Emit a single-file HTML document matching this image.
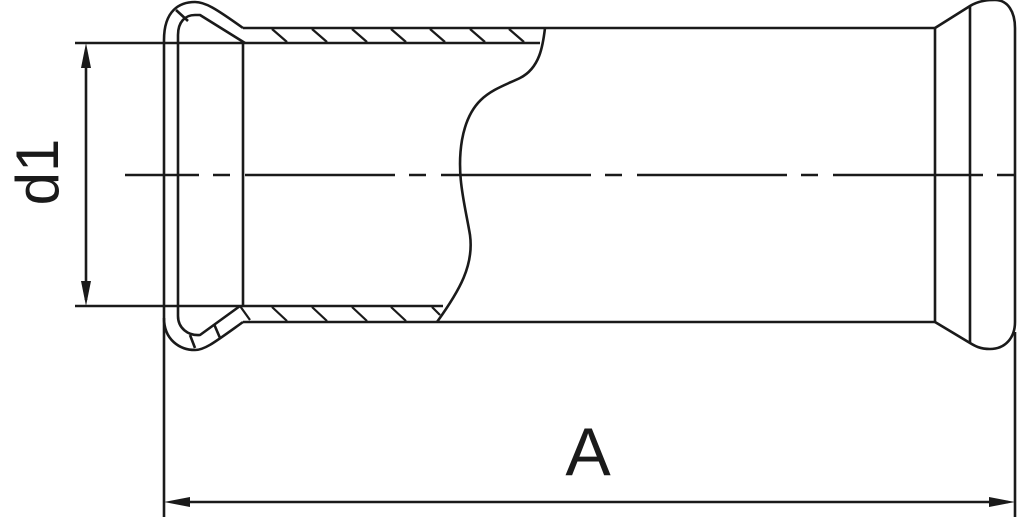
<!DOCTYPE html>
<html><head><style>
html,body{margin:0;padding:0;background:#fff;}
svg{display:block;}
</style></head><body>
<svg width="1024" height="517" viewBox="0 0 1024 517" xmlns="http://www.w3.org/2000/svg">
<g fill="none" stroke="#1a1a1a" stroke-width="2.6" stroke-linejoin="round">
<!-- centerline -->
<line x1="125" y1="175" x2="1015" y2="175" stroke-dasharray="150 14 17 15" stroke-dashoffset="76"/>
<!-- left bulb outer -->
<path d="M164,318 L164,40 C164,10 180,2 195,2 C205,2 215,8 243,28"/>
<path d="M164,318 C164,340 180,350 195,350 C205,350 215,342 243,322"/>
<!-- left bulb inner -->
<path d="M178,316 L178,35 C178,22 185,15 195,15 L200,15 L245,43"/>
<path d="M178,316 C178,328 188,336 200,335 L240,306"/>
<!-- small hatches in bulb -->
<line x1="176" y1="10" x2="188" y2="21"/>
<line x1="214" y1="324" x2="220" y2="338"/>
<line x1="190" y1="335" x2="195" y2="348"/>
<!-- inner vertical -->
<line x1="243" y1="43" x2="243" y2="306"/>
<!-- tube top -->
<line x1="243" y1="28" x2="935" y2="28"/>
<line x1="245" y1="43" x2="540" y2="43"/>
<!-- tube bottom -->
<line x1="240" y1="306" x2="443" y2="306"/>
<line x1="243" y1="322" x2="935" y2="322"/>
<!-- hatching top -->
<g stroke-width="2.2">
<line x1="272" y1="29" x2="287" y2="42"/>
<line x1="312" y1="29" x2="327" y2="42"/>
<line x1="352" y1="29" x2="367" y2="42"/>
<line x1="391" y1="29" x2="406" y2="42"/>
<line x1="430" y1="29" x2="445" y2="42"/>
<line x1="470" y1="29" x2="485" y2="42"/>
<line x1="509" y1="29" x2="524" y2="42"/>
<line x1="272" y1="307" x2="287" y2="321"/>
<line x1="312" y1="307" x2="327" y2="321"/>
<line x1="352" y1="307" x2="367" y2="321"/>
<line x1="391" y1="307" x2="406" y2="321"/>
<line x1="432" y1="307" x2="440" y2="315"/>
<line x1="240" y1="306" x2="250" y2="320"/>
</g>
<!-- wavy break -->
<path d="M545,28 C543,45 540,68 520,78 C495,90 470,95 462,140 C456,175 465,205 470,235 C474,265 460,290 437,322"/>
<!-- right end -->
<line x1="935" y1="28" x2="935" y2="322"/>
<line x1="970" y1="6" x2="970" y2="343"/>
<path d="M935,28 L970,6 C980,0 990,0 995,0 C1008,0 1015,12 1015,28 L1015,322 C1015,338 1005,349 990,349 C980,349 975,346 970,343 L935,322"/>
<!-- d1 dimension -->
<line x1="75" y1="43" x2="245" y2="43"/>
<line x1="75" y1="306" x2="240" y2="306"/>
<line x1="86" y1="50" x2="86" y2="300"/>
<!-- A dimension -->
<line x1="164" y1="318" x2="164" y2="517"/>
<line x1="1015" y1="332" x2="1015" y2="517"/>
<line x1="172" y1="502" x2="1008" y2="502"/>
</g>
<g fill="#1a1a1a">
<polygon points="86,43 81,68 91,68"/>
<polygon points="86,306 81,281 91,281"/>
<polygon points="164,502 190,497 190,507"/>
<polygon points="1015,502 989,497 989,507"/>
</g>
<text x="588" y="475" font-family="Liberation Sans, sans-serif" font-size="68" text-anchor="middle" fill="#1a1a1a">A</text>
<text transform="translate(58,172) rotate(-90)" font-family="Liberation Sans, sans-serif" font-size="60" text-anchor="middle" fill="#1a1a1a">d1</text>
</svg>
</body></html>
